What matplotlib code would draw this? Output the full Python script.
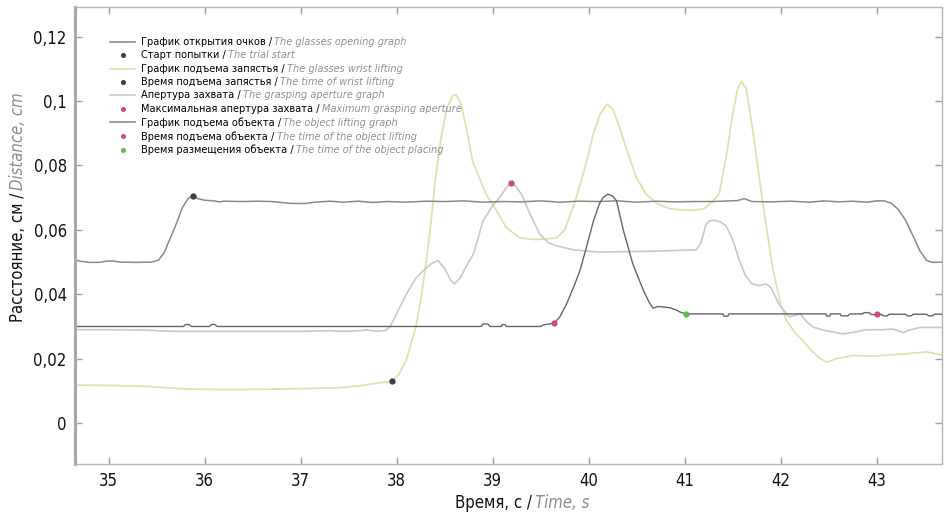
import matplotlib
matplotlib.use("Agg")
import matplotlib.pyplot as plt
from matplotlib.lines import Line2D
from matplotlib.offsetbox import AnchoredOffsetbox, DrawingArea, HPacker, VPacker, TextArea

FONT = ['Liberation Sans Narrow', 'DejaVu Sans']
plt.rcParams['font.family'] = FONT
plt.rcParams['font.stretch'] = 'condensed'

# glasses opening graph
glasses_t = [34.65, 34.72, 34.80, 34.90, 34.98, 35.05, 35.12, 35.30, 35.45, 35.52, 35.58,
             35.64, 35.70, 35.77, 35.83, 35.875, 35.93, 36.00, 36.10, 36.15, 36.20, 36.40,
             36.55, 36.70, 36.80, 36.90, 37.05, 37.15, 37.30, 37.45, 37.60, 37.75, 37.90,
             38.10, 38.30, 38.50, 38.70, 38.90, 39.10, 39.30, 39.50, 39.70, 39.90, 40.10,
             40.30, 40.50, 40.70, 40.90, 41.10, 41.30, 41.55, 41.62, 41.70, 41.90, 42.10,
             42.30, 42.45, 42.60, 42.75, 42.90, 43.00, 43.08, 43.15, 43.22, 43.30, 43.38,
             43.45, 43.52, 43.58, 43.70]
glasses_v = [0.0506, 0.0502, 0.0499, 0.0499, 0.0503, 0.0503, 0.0500, 0.0499, 0.0500, 0.0506, 0.0530,
             0.0573, 0.0615, 0.0670, 0.0698, 0.0706, 0.0697, 0.0692, 0.0690, 0.0687, 0.0689, 0.0688,
             0.0689, 0.0688, 0.0685, 0.0682, 0.0682, 0.0686, 0.0689, 0.0686, 0.0689, 0.0685, 0.0688,
             0.0686, 0.0689, 0.0688, 0.0690, 0.0686, 0.0688, 0.0687, 0.0690, 0.0686, 0.0689, 0.0688,
             0.0690, 0.0686, 0.0689, 0.0687, 0.0688, 0.0688, 0.0691, 0.0697, 0.0688, 0.0687, 0.0689,
             0.0686, 0.0690, 0.0687, 0.0689, 0.0686, 0.0690, 0.0690, 0.0683, 0.0665, 0.0630, 0.0580,
             0.0535, 0.0505, 0.0499, 0.0500]

# wrist lifting graph
wrist_t = [34.65, 35.00, 35.40, 35.60, 35.80, 36.20, 36.60, 37.00, 37.40, 37.60, 37.80, 37.955,
           38.02, 38.10, 38.20, 38.26, 38.31, 38.36, 38.40, 38.46, 38.52, 38.58, 38.62, 38.67,
           38.73, 38.79, 38.93, 39.04, 39.14, 39.28, 39.45, 39.60, 39.67, 39.75, 39.85, 39.92,
           39.98, 40.05, 40.12, 40.19, 40.25, 40.32, 40.40, 40.50, 40.60, 40.72, 40.85, 41.05,
           41.20, 41.28, 41.36, 41.44, 41.50, 41.55, 41.59, 41.64, 41.71, 41.81, 41.92, 42.00,
           42.06, 42.15, 42.23, 42.32, 42.41, 42.48, 42.58, 42.75, 42.95, 43.10, 43.30, 43.52,
           43.62, 43.70]
wrist_v = [0.0118, 0.0117, 0.0114, 0.0110, 0.0106, 0.0104, 0.0105, 0.0107, 0.0110, 0.0115, 0.0124, 0.0131,
           0.0150, 0.0195, 0.0298, 0.0400, 0.0505, 0.0630, 0.0750, 0.0880, 0.0975, 0.1015, 0.1020, 0.0990,
           0.0910, 0.0814, 0.0711, 0.0660, 0.0608, 0.0575, 0.0570, 0.0573, 0.0576, 0.0600, 0.0680, 0.0750,
           0.0814, 0.0900, 0.0960, 0.0990, 0.0975, 0.0920, 0.0845, 0.0760, 0.0710, 0.0680, 0.0665, 0.0660,
           0.0665, 0.0685, 0.0712, 0.0840, 0.0960, 0.1035, 0.1060, 0.1040, 0.0907, 0.0690, 0.0474, 0.0370,
           0.0319, 0.0280, 0.0257, 0.0225, 0.0201, 0.0189, 0.0200, 0.0210, 0.0208, 0.0211, 0.0215, 0.0221,
           0.0215, 0.0210]

# grasping aperture graph
aperture_t = [34.65, 35.00, 35.40, 35.55, 35.70, 36.50, 37.00, 37.30, 37.45, 37.60, 37.70, 37.80,
              37.88, 37.93, 38.00, 38.10, 38.20, 38.28, 38.36, 38.43, 38.50, 38.56, 38.60, 38.66,
              38.73, 38.80, 38.90, 39.00, 39.07, 39.14, 39.19, 39.24, 39.30, 39.39, 39.49, 39.58,
              39.66, 39.84, 40.10, 40.53, 40.80, 41.12, 41.17, 41.22, 41.26, 41.31, 41.37, 41.43,
              41.50, 41.57, 41.63, 41.70, 41.78, 41.85, 41.90, 41.99, 42.09, 42.15, 42.20, 42.27,
              42.34, 42.45, 42.55, 42.65, 42.78, 42.89, 43.05, 43.17, 43.24, 43.28, 43.33, 43.45,
              43.70]
aperture_v = [0.0290, 0.0290, 0.0289, 0.0286, 0.0285, 0.0285, 0.0285, 0.0287, 0.0285, 0.0287, 0.0289, 0.0285,
              0.0287, 0.0298, 0.0340, 0.0400, 0.0450, 0.0474, 0.0495, 0.0505, 0.0480, 0.0445, 0.0432, 0.0450,
              0.0490, 0.0525, 0.0628, 0.0675, 0.0700, 0.0730, 0.0747, 0.0735, 0.0711, 0.0649, 0.0587, 0.0560,
              0.0551, 0.0538, 0.0531, 0.0533, 0.0535, 0.0538, 0.0560, 0.0615, 0.0628, 0.0630, 0.0625, 0.0613,
              0.0570, 0.0505, 0.0460, 0.0432, 0.0427, 0.0432, 0.0420, 0.0365, 0.0330, 0.0335, 0.0340, 0.0315,
              0.0298, 0.0288, 0.0283, 0.0277, 0.0283, 0.0290, 0.0290, 0.0292, 0.0285, 0.0281, 0.0288, 0.0297,
              0.0297]

# object lifting graph
object_t = [34.65, 35.78, 35.80, 35.84, 35.86, 36.05, 36.07, 36.11, 36.13, 38.88, 38.90, 38.95,
            38.97, 39.09, 39.10, 39.13, 39.14, 39.50, 39.53, 39.64, 39.70, 39.77, 39.84, 39.91,
            39.98, 40.05, 40.11, 40.15, 40.20, 40.25, 40.29, 40.36, 40.46, 40.57, 40.63, 40.67,
            40.72, 40.80, 40.86, 40.92, 40.95, 41.01, 41.40, 41.41, 41.45, 41.46, 42.47, 42.48,
            42.51, 42.52, 42.62, 42.63, 42.70, 42.72, 42.85, 42.87, 42.92, 42.94, 43.05, 43.07,
            43.11, 43.13, 43.30, 43.32, 43.36, 43.38, 43.52, 43.54, 43.58, 43.60, 43.70]
object_v = [0.0300, 0.0300, 0.0306, 0.0306, 0.0300, 0.0300, 0.0306, 0.0306, 0.0300, 0.0300, 0.0308, 0.0308,
            0.0300, 0.0300, 0.0306, 0.0306, 0.0300, 0.0300, 0.0305, 0.0310, 0.0330, 0.0370, 0.0420, 0.0474,
            0.0550, 0.0628, 0.0680, 0.0700, 0.0711, 0.0705, 0.0690, 0.0600, 0.0494, 0.0412, 0.0375, 0.0357,
            0.0362, 0.0360, 0.0357, 0.0350, 0.0345, 0.0339, 0.0339, 0.0332, 0.0332, 0.0339, 0.0339, 0.0332,
            0.0332, 0.0339, 0.0339, 0.0333, 0.0333, 0.0339, 0.0339, 0.0343, 0.0343, 0.0337, 0.0337, 0.0333,
            0.0333, 0.0338, 0.0338, 0.0333, 0.0333, 0.0338, 0.0338, 0.0333, 0.0333, 0.0338, 0.0338]

# event markers (time, value)
trial_start = (35.875, 0.0706)
wrist_time = (37.955, 0.0131)
max_aperture = (39.19, 0.0747)
object_lift = [(39.64, 0.0310), (43.0, 0.0339)]
object_place = (41.01, 0.0339)

x_ticks = [35, 36, 37, 38, 39, 40, 41, 42, 43]
y_ticks = [0, 0.02, 0.04, 0.06, 0.08, 0.1, 0.12]
y_tick_labels = ['0', '0,02', '0,04', '0,06', '0,08', '0,1', '0,12']

C_GLASSES = '#8a8a8a'
C_WRIST = '#dde3ac'
C_APERTURE = '#c9c9c9'
C_OBJECT = '#666666'
C_DARK_PT = '#3c3c4a'
C_MAX_PT = '#c4506c'
C_LIFT_PT = '#d24a78'
C_PLACE_PT = '#5cbf4a'

fig = plt.figure(figsize=(9.44, 5.15), dpi=100)
ax = fig.add_axes([75 / 944, 1 - 464 / 515, 867 / 944, 457 / 515])

ax.plot(wrist_t, wrist_v, color=C_WRIST, lw=1.3)
ax.plot(aperture_t, aperture_v, color=C_APERTURE, lw=1.2)
ax.plot(glasses_t, glasses_v, color=C_GLASSES, lw=1.1)
ax.plot(object_t, object_v, color=C_OBJECT, lw=1.0)

ms = 3.5
ax.plot(*trial_start, 'o', color=C_DARK_PT, ms=ms)
ax.plot(*wrist_time, 'o', color=C_DARK_PT, ms=ms)
ax.plot(*max_aperture, 'o', color=C_MAX_PT, ms=ms)
ax.plot([p[0] for p in object_lift], [p[1] for p in object_lift], 'o', color=C_LIFT_PT, ms=ms)
ax.plot(*object_place, 'o', color=C_PLACE_PT, ms=ms)

ax.set_xlim(34.65, 43.68)
ax.set_ylim(-0.0127, 0.1292)
ax.set_xticks(x_ticks)
ax.set_xticklabels([str(t) for t in x_ticks])
ax.set_yticks(y_ticks)
ax.set_yticklabels(y_tick_labels)
ax.tick_params(direction='in', length=5, width=1, color='#a0a0a0', labelsize=12,
               top=True, right=True, labelcolor='#111111')
ax.tick_params(axis='y', pad=6)
ax.tick_params(axis='x', pad=6)
for name, sp in ax.spines.items():
    sp.set_color('#b4b4b4')
    sp.set_linewidth(1.0)
ax.spines['left'].set_linewidth(2.2)
ax.spines['left'].set_color('#a8a8a8')

# axis titles: Russian part in black, English part in grey italics
fig.text(532 / 944, 1 - 508 / 515, 'Время, с /', ha='right', va='baseline',
         fontsize=12, color='#111111')
fig.text(535 / 944, 1 - 508 / 515, 'Time, s', ha='left', va='baseline',
         fontsize=12, color='#8c8c8c', style='italic')
fig.text(18 / 944, 1 - 193 / 515, 'Расстояние, см /', rotation=90, ha='center', va='top',
         fontsize=12, color='#111111')
fig.text(18 / 944, 1 - 190 / 515, 'Distance, cm', rotation=90, ha='center', va='bottom',
         fontsize=12, color='#8c8c8c', style='italic')

# legend
legend_rows = [
    ('line', C_GLASSES, 'График открытия очков', 'The glasses opening graph'),
    ('dot', C_DARK_PT, 'Старт попытки', 'The trial start'),
    ('line', C_WRIST, 'График подъема запястья', 'The glasses wrist lifting'),
    ('dot', C_DARK_PT, 'Время подъема запястья', 'The time of wrist lifting'),
    ('line', C_APERTURE, 'Апертура захвата', 'The grasping aperture graph'),
    ('dot', C_MAX_PT, 'Максимальная апертура захвата', 'Maximum grasping aperture'),
    ('line', C_GLASSES, 'График подъема объекта', 'The object lifting graph'),
    ('dot', C_LIFT_PT, 'Время подъема объекта', 'The time of the object lifting'),
    ('dot', C_PLACE_PT, 'Время размещения объекта', 'The time of the object placing'),
]
rows = []
for kind, color, ru, en in legend_rows:
    da = DrawingArea(18, 7, 0, 0)
    if kind == 'line':
        da.add_artist(Line2D([0, 18], [3.5, 3.5], color=color, lw=1.2))
    else:
        da.add_artist(Line2D([9], [3.5], marker='o', ms=2.6, color=color, ls='none'))
    t1 = TextArea(ru + ' /', textprops=dict(color='#000000', fontsize=7.8))
    t2 = TextArea(en, textprops=dict(color='#909090', fontsize=7.8, style='italic'))
    rows.append(HPacker(children=[da, HPacker(children=[t1, t2], sep=2, pad=0, align='baseline')],
                        sep=4, pad=0, align='center'))
box = VPacker(children=rows, sep=2.4, pad=0, align='left')
anchored = AnchoredOffsetbox(loc='upper left', child=box, pad=0, borderpad=0, frameon=False,
                             bbox_to_anchor=(110 / 944, 1 - 37 / 515),
                             bbox_transform=fig.transFigure)
ax.add_artist(anchored)

fig.savefig('out.png', dpi=100)
